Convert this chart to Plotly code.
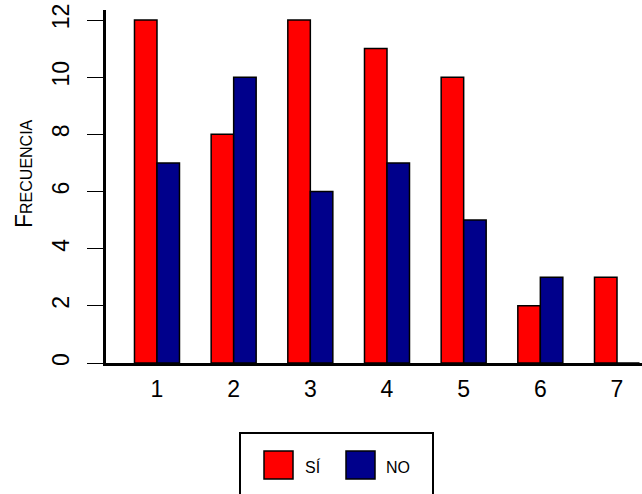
import plotly.graph_objects as go

categorias = [1, 2, 3, 4, 5, 6, 7]
si_valores = [12, 8, 12, 11, 10, 2, 3]
no_valores = [7, 10, 6, 7, 5, 3, 0]
etiquetas_y = [0, 2, 4, 6, 8, 10, 12]

FONT = "Liberation Sans, Arial, sans-serif"
ROJO = "#FF0000"
AZUL = "#00008B"

fig = go.Figure()
fig.add_trace(go.Bar(x=categorias, y=si_valores, name="Sí",
                     marker=dict(color=ROJO, line=dict(color="black", width=1.5)),
                     showlegend=False))
fig.add_trace(go.Bar(x=categorias, y=no_valores, name="No",
                     marker=dict(color=AZUL, line=dict(color="black", width=1.5)),
                     showlegend=False))

W, H = 642, 494
L, R, T, B = 106, 0, 10, 131

fig.update_layout(
    width=W, height=H,
    margin=dict(l=L, r=R, t=T, b=B, pad=0),
    paper_bgcolor="white", plot_bgcolor="white",
    barmode="group", bargap=0.413, bargroupgap=0,
    font=dict(family=FONT, color="black"),
    xaxis=dict(range=[0.335, 7.326], tickmode="array", tickvals=categorias,
               ticktext=[str(c) for c in categorias],
               showline=True, linecolor="black", linewidth=2.5,
               ticks="", showgrid=False, zeroline=False,
               tickfont=dict(size=23, family=FONT), ticklabelstandoff=4),
    yaxis=dict(range=[0, 12.35], tickmode="array", tickvals=etiquetas_y,
               ticktext=[str(v) for v in etiquetas_y],
               showline=True, linecolor="black", linewidth=2.5,
               ticks="outside", ticklen=16, tickwidth=1, tickcolor="black",
               tickangle=-90, showgrid=False, zeroline=False,
               tickfont=dict(size=23, family=FONT), ticklabelstandoff=9),
)

pw = W - L - R
ph = H - T - B
def px(xp):
    return (xp - L) / pw
def py(yp):
    return (H - B - yp) / ph

# y-axis title
fig.add_annotation(text="Frecuencia", x=px(24), y=py(174), xref="paper", yref="paper",
                   textangle=-90, showarrow=False, xanchor="center", yanchor="middle",
                   font=dict(size=23, family=FONT, variant="small-caps"))

# legend box
fig.add_shape(type="rect", xref="paper", yref="paper",
              x0=px(240), x1=px(433), y0=py(433), y1=py(520),
              line=dict(color="black", width=2), fillcolor="rgba(0,0,0,0)")
fig.add_shape(type="rect", xref="paper", yref="paper",
              x0=px(264), x1=px(293), y0=py(451), y1=py(479),
              line=dict(color="black", width=1.5), fillcolor=ROJO)
fig.add_shape(type="rect", xref="paper", yref="paper",
              x0=px(346), x1=px(375), y0=py(451), y1=py(479),
              line=dict(color="black", width=1.5), fillcolor=AZUL)
fig.add_annotation(text="sí", x=px(303), y=py(465), xref="paper", yref="paper",
                   showarrow=False, xanchor="left", yanchor="middle",
                   font=dict(size=23, family=FONT, variant="small-caps"))
fig.add_annotation(text="no", x=px(384), y=py(465), xref="paper", yref="paper",
                   showarrow=False, xanchor="left", yanchor="middle",
                   font=dict(size=23, family=FONT, variant="small-caps"))

fig.write_html("out.html", config={"displayModeBar": False},
               post_script="document.body.style.margin='0';")
